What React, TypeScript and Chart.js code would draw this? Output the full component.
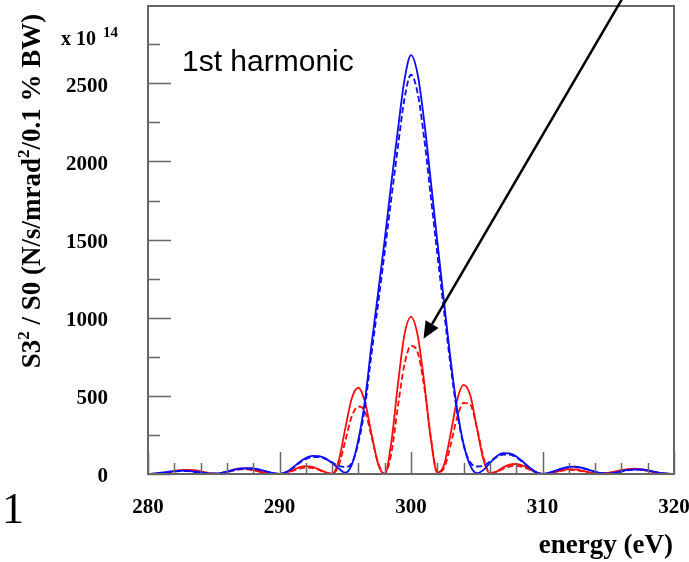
import React, { useEffect, useRef } from 'react';
import { Chart, registerables } from 'chart.js';

Chart.register(...registerables);

// Photon energy grid (eV)
const energy = [
  280, 280.5, 281, 281.5, 282, 282.5, 283, 283.5, 284, 284.5,
  285, 285.5, 286, 286.5, 287, 287.5, 288, 288.5, 289, 289.5,
  290, 290.5, 291, 291.5, 292, 292.5, 293, 293.5, 294, 294.5,
  295, 295.5, 296, 296.5, 297, 297.5, 298, 298.5, 299, 299.5,
  300, 300.5, 301, 301.5, 302, 302.5, 303, 303.5, 304, 304.5,
  305, 305.5, 306, 306.5, 307, 307.5, 308, 308.5, 309, 309.5,
  310, 310.5, 311, 311.5, 312, 312.5, 313, 313.5, 314, 314.5,
  315, 315.5, 316, 316.5, 317, 317.5, 318, 318.5, 319, 319.5,
  320,
];

// S3^2 / S0 in units of 1e14 N/s/mrad^2/0.1%BW
const blueSolid = [
  0, 3, 8, 14, 19, 21, 20, 16, 10, 5,
  2, 6, 15, 26, 34, 38, 36, 28, 17, 6,
  0, 12, 40, 75, 102, 116, 115, 100, 70, 35,
  8, 60, 220, 470, 830, 1160, 1500, 1860, 2200, 2520,
  2680, 2560, 2260, 1880, 1490, 1110, 740, 420, 190, 55,
  5, 25, 70, 112, 133, 132, 112, 80, 42, 12,
  0, 8, 22, 36, 45, 47, 40, 28, 14, 5,
  2, 8, 18, 26, 30, 29, 23, 14, 6, 2,
  0,
];

const blueDashed = [
  0, 3, 7, 12, 17, 19, 18, 14, 9, 5,
  3, 6, 14, 24, 31, 35, 33, 26, 16, 6,
  1, 12, 38, 70, 95, 108, 108, 96, 75, 52,
  45, 70, 200, 430, 770, 1090, 1420, 1760, 2090, 2400,
  2555, 2440, 2150, 1780, 1410, 1050, 700, 400, 185, 75,
  48, 52, 80, 108, 124, 124, 106, 76, 40, 12,
  1, 7, 20, 33, 42, 44, 38, 27, 14, 5,
  2, 7, 16, 24, 28, 27, 21, 13, 5, 2,
  0,
];

const redSolid = [
  0, 2, 6, 12, 19, 24, 26, 24, 17, 8,
  2, 4, 14, 28, 36, 35, 27, 16, 7, 2,
  0, 8, 25, 43, 51, 46, 30, 11, 0, 85,
  290, 485, 552, 460, 255, 65, 0, 200, 570, 890,
  1006, 890, 590, 230, 8, 55, 250, 470, 570, 505,
  300, 95, 3, 15, 42, 60, 64, 54, 33, 11,
  0, 5, 14, 25, 31, 29, 21, 11, 4, 3,
  7, 15, 24, 31, 34, 31, 23, 13, 5, 1,
  0,
];

const redDashed = [
  0, 2, 5, 10, 16, 20, 22, 20, 14, 7,
  2, 3, 11, 22, 29, 29, 23, 14, 6, 2,
  0, 6, 20, 34, 41, 38, 26, 10, 2, 55,
  210, 370, 432, 400, 240, 70, 3, 130, 430, 700,
  820, 780, 560, 240, 10, 35, 180, 360, 455, 445,
  300, 110, 8, 12, 33, 48, 52, 45, 28, 10,
  0, 4, 12, 21, 26, 25, 18, 9, 3, 2,
  6, 13, 21, 27, 29, 27, 20, 11, 4, 1,
  0,
];

const xTicks = [280, 290, 300, 310, 320];
const yTicks = [0, 500, 1000, 1500, 2000, 2500];
const xMinorStep = 2;
const yMinorStep = 250;

// Arrow pointing at the central red peak (data coordinates)
const arrowFrom = { x: 316.05, y: 3040 };
const arrowTo = { x: 300.95, y: 865 };

const SERIF = "'Liberation Serif', 'Times New Roman', serif";
const SANS = "'Liberation Sans', Arial, sans-serif";

const pts = (ys: number[]) => energy.map((x, i) => ({ x, y: ys[i] }));

const decorations = {
  id: 'decorations',
  afterDatasetsDraw(chart: any) {
    const { ctx, chartArea: a, scales } = chart;
    const xs = scales.x;
    const ys = scales.y;
    ctx.save();

    // inward tick marks
    ctx.strokeStyle = '#666';
    ctx.lineWidth = 1.5;
    ctx.beginPath();
    for (let v = xTicks[0]; v <= xTicks[xTicks.length - 1]; v += xMinorStep) {
      const px = Math.round(xs.getPixelForValue(v)) + 0.5;
      const len = xTicks.includes(v) ? 22 : 11;
      ctx.moveTo(px, a.bottom);
      ctx.lineTo(px, a.bottom - len);
    }
    for (let v = 0; v <= ys.max; v += yMinorStep) {
      const py = Math.round(ys.getPixelForValue(v)) + 0.5;
      const len = yTicks.includes(v) ? 23 : 12;
      ctx.moveTo(a.left, py);
      ctx.lineTo(a.left + len, py);
    }
    ctx.stroke();

    // frame
    ctx.strokeStyle = '#666';
    ctx.lineWidth = 2;
    ctx.strokeRect(a.left, a.top, a.right - a.left, a.bottom - a.top);

    // arrow
    const x0 = xs.getPixelForValue(arrowFrom.x);
    const y0 = ys.getPixelForValue(arrowFrom.y);
    const x1 = xs.getPixelForValue(arrowTo.x);
    const y1 = ys.getPixelForValue(arrowTo.y);
    const dx = x1 - x0;
    const dy = y1 - y0;
    const len = Math.hypot(dx, dy);
    const ux = dx / len;
    const uy = dy / len;
    const head = 17;
    const half = 7.5;
    const bx = x1 - ux * head;
    const by = y1 - uy * head;
    ctx.strokeStyle = '#000';
    ctx.fillStyle = '#000';
    ctx.lineWidth = 2.5;
    ctx.beginPath();
    ctx.moveTo(x0, y0);
    ctx.lineTo(bx, by);
    ctx.stroke();
    ctx.beginPath();
    ctx.moveTo(x1, y1);
    ctx.lineTo(bx - uy * half, by + ux * half);
    ctx.lineTo(bx + uy * half, by - ux * half);
    ctx.closePath();
    ctx.fill();

    // texts
    ctx.fillStyle = '#000';
    ctx.textBaseline = 'alphabetic';
    ctx.textAlign = 'left';

    ctx.font = `30px ${SANS}`;
    ctx.fillText('1st harmonic', 182, 71);

    ctx.font = `bold 20px ${SERIF}`;
    ctx.fillText('x 10', 61, 45);
    ctx.font = `bold 15px ${SERIF}`;
    ctx.fillText('14', 103, 37);

    ctx.font = `bold 27px ${SERIF}`;
    ctx.textAlign = 'right';
    ctx.fillText('energy (eV)', 673, 553);

    ctx.font = `44px ${SERIF}`;
    ctx.textAlign = 'left';
    ctx.fillText('1', 2, 523);

    // rotated y title with superscripts
    const parts: [string, boolean][] = [
      ['S3', false],
      ['2', true],
      [' / S0 (N/s/mrad', false],
      ['2', true],
      ['/0.1 % BW)', false],
    ];
    const mainFont = `bold 27px ${SERIF}`;
    const supFont = `bold 17px ${SERIF}`;
    let total = 0;
    for (const [t, sup] of parts) {
      ctx.font = sup ? supFont : mainFont;
      total += ctx.measureText(t).width;
    }
    ctx.translate(40, 191);
    ctx.rotate(-Math.PI / 2);
    let cx = -total / 2;
    for (const [t, sup] of parts) {
      ctx.font = sup ? supFont : mainFont;
      ctx.fillText(t, cx, sup ? -11 : 0);
      cx += ctx.measureText(t).width;
    }
    ctx.restore();
  },
};

export default function App() {
  const ref = useRef<HTMLCanvasElement>(null);

  useEffect(() => {
    const canvas = ref.current;
    if (!canvas) return;
    const chart = new Chart(canvas, {
      type: 'line',
      data: {
        datasets: [
          { data: pts(blueSolid), borderColor: '#0a0aff', borderWidth: 1.8 },
          { data: pts(blueDashed), borderColor: '#0a0aff', borderWidth: 1.8, borderDash: [6, 3] },
          { data: pts(redSolid), borderColor: '#ff0a0a', borderWidth: 1.8 },
          { data: pts(redDashed), borderColor: '#ff0a0a', borderWidth: 1.8, borderDash: [6, 3] },
        ].map((d) => ({
          ...d,
          pointRadius: 0,
          fill: false,
          cubicInterpolationMode: 'monotone' as const,
        })),
      },
      options: {
        responsive: false,
        animation: false,
        layout: { padding: { left: 0, top: 6, right: 15, bottom: 0 } },
        plugins: { legend: { display: false }, tooltip: { enabled: false } },
        scales: {
          x: {
            type: 'linear',
            min: 280,
            max: 320,
            grid: { display: false, drawTicks: false },
            border: { display: false },
            afterBuildTicks: (s: any) => {
              s.ticks = xTicks.map((value) => ({ value }));
            },
            afterFit: (s: any) => {
              s.height = 88;
              s.paddingLeft = 0;
              s.paddingRight = 0;
            },
            ticks: {
              autoSkip: false,
              maxRotation: 0,
              padding: 21,
              color: '#000',
              font: { family: SERIF, size: 21, weight: 'bold' },
              callback: (v: any) => String(v),
            },
          },
          y: {
            type: 'linear',
            min: 0,
            max: 2995,
            grid: { display: false, drawTicks: false },
            border: { display: false },
            afterBuildTicks: (s: any) => {
              s.ticks = yTicks.map((value) => ({ value }));
            },
            afterFit: (s: any) => {
              s.width = 148;
              s.paddingTop = 0;
              s.paddingBottom = 0;
            },
            ticks: {
              autoSkip: false,
              padding: 40,
              labelOffset: 3,
              color: '#000',
              font: { family: SERIF, size: 21, weight: 'bold' },
              callback: (v: any) => String(v),
            },
          },
        },
      },
      plugins: [decorations],
    });
    return () => chart.destroy();
  }, []);

  return (
    <div style={{ position: 'fixed', left: 0, top: 0, width: 689, height: 562, background: '#fff' }}>
      <canvas ref={ref} width={689} height={562} style={{ display: 'block' }} />
    </div>
  );
}
